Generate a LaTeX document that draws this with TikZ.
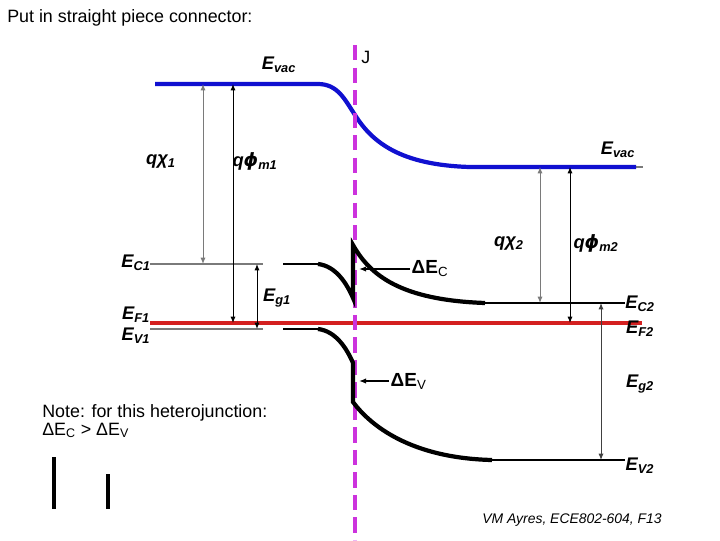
\documentclass[tikz,border=0pt]{standalone}
\usepackage{fontspec}
\setmainfont{Liberation Sans}
\newfontfamily\symfont{DejaVu Sans}
\usetikzlibrary{arrows.meta}
\definecolor{cblue}{HTML}{1010D0}
\definecolor{cred}{HTML}{D42020}
\definecolor{cjunc}{HTML}{CC33DD}
\definecolor{cgrey}{HTML}{7A7A7A}
\tikzset{
  every picture/.style={font=\fontsize{12.7}{15}\selectfont},
  level/.style={draw=#1, line width=1pt},
  level/.default=cgrey,
  band/.style={draw=black, line width=3pt},
  vac/.style={draw=cblue, line width=3pt},
  arrow/.style={{Latex[length=1.6mm,width=1.3mm]}-{Latex[length=1.6mm,width=1.3mm]}, draw=#1, line width=0.7pt},
  arrow/.default=black,
  lab/.style={font=\fontsize{13}{15}\selectfont\bfseries\itshape, inner sep=0pt},
  txt/.style={inner sep=0pt, anchor=base west},
}

\begin{document}
\begin{tikzpicture}[x=0.025cm, y=-0.025cm]
  \useasboundingbox (0,0) rectangle (720,540);
  \node[txt] (title) at (7,22) {Put in straight piece connector:};
  % level end points
  \coordinate (vac1a) at (155,84);  \coordinate (vac1b) at (318,84);
  \coordinate (vac2a) at (470,167); \coordinate (vac2b) at (636,167);
  \coordinate (c1a) at (150,264);   \coordinate (c1b) at (263,264);
  \coordinate (c1c) at (283,264);   \coordinate (c1d) at (318,264);
  \coordinate (v1a) at (150,329);   \coordinate (v1b) at (263,329);
  \coordinate (v1c) at (283,329);   \coordinate (v1d) at (318,329);
  \coordinate (c2a) at (485,303);   \coordinate (c2b) at (625,303);
  \coordinate (v2a) at (492,460);   \coordinate (v2b) at (625,460);
  \coordinate (fa) at (150,323);    \coordinate (fb) at (642,323);
  \coordinate (jtop) at (355,45);   \coordinate (jbot) at (355,540);
  % flat levels
  \draw[cred, line width=2.6pt] (fa) -- (fb);
  \draw[level] (c1a) -- (c1b);
  \draw[level] (v1a) -- (v1b);
  \draw[level=black] (c1c) -- (c1d);
  \draw[level=black] (v1c) -- (v1d);
  \draw[level=black] (c2a) -- (c2b);
  \draw[level=black] (v2a) -- (v2b);
  \draw[level] (vac2b) -- ++(7,0);
  % vacuum level
  \draw[vac] (vac1a) -- (vac1b) .. controls (338,84) and (345,100) .. (355,115)
    .. controls (372,142) and (400,165) .. (vac2a) -- (vac2b);
  % junction
  \draw[cjunc, line width=2.8pt, dash pattern=on 11pt off 5pt] (jtop) -- (jbot);
  \node[anchor=west, inner sep=0pt] (J) at (361,57) {J};
  % bent bands
  \draw[band] (c1d) .. controls (336,266) and (347,284) .. (353,298) -- (353,245)
    .. controls (370,275) and (400,300) .. (c2a);
  \draw[band] (v1d) .. controls (336,331) and (347,349) .. (353,363) -- (353,402)
    .. controls (370,425) and (410,458) .. (v2a);
  % band offsets
  \coordinate (dct) at (410,269); \coordinate (dch) at (359,269);
  \coordinate (dvt) at (389,381); \coordinate (dvh) at (359,381);
  \draw[-{Latex[length=1.8mm,width=1.4mm]}, line width=1pt] (dct) -- (dch);
  \draw[-{Latex[length=1.8mm,width=1.4mm]}, line width=1pt] (dvt) -- (dvh);
  \node[anchor=west, inner sep=1pt, font=\fontsize{13.5}{15}\selectfont] (dEc) at (dct) {\bfseries ΔE\textsubscript{\mdseries C}};
  \node[anchor=west, inner sep=1pt, font=\fontsize{13.5}{15}\selectfont] (dEv) at (dvt) {\bfseries ΔE\textsubscript{\mdseries V}};
  % energy arrows
  \coordinate (chi1t) at (203,84);  \coordinate (chi1b) at (203,264);
  \coordinate (phi1t) at (233,84);  \coordinate (phi1b) at (233,323);
  \coordinate (eg1t) at (257,264);  \coordinate (eg1b) at (257,329);
  \coordinate (chi2t) at (540,167); \coordinate (chi2b) at (540,303);
  \coordinate (phi2t) at (570,167); \coordinate (phi2b) at (570,323);
  \coordinate (eg2t) at (601,303);  \coordinate (eg2b) at (601,460);
  \foreach \a/\b/\c in {chi1t/chi1b/cgrey, phi1t/phi1b/black, eg1t/eg1b/black,
                        chi2t/chi2b/cgrey, phi2t/phi2b/black, eg2t/eg2b/black!75}
    \draw[arrow=\c] (\a) -- (\b);
  % labels
  \node[lab] (evac1) at (279,65)  {E\textsubscript{vac}};
  \node[lab] (evac2) at (618,150) {E\textsubscript{vac}};
  \node[lab] (chi1)  at (161,161) {qχ\textsubscript{1}};
  \node[lab] (phi1)  at (255,161) {q{\symfont ϕ}\textsubscript{m1}};
  \node[lab] (chi2)  at (509,243) {qχ\textsubscript{2}};
  \node[lab] (phi2)  at (596,243) {q{\symfont ϕ}\textsubscript{m2}};
  \node[lab] (ec1)   at (136,263) {E\textsubscript{C1}};
  \node[lab] (ef1)   at (136,315) {E\textsubscript{F1}};
  \node[lab] (ev1)   at (136,336) {E\textsubscript{V1}};
  \node[lab] (eg1)   at (277,298) {E\textsubscript{g1}};
  \node[lab] (ec2)   at (640,304) {E\textsubscript{C2}};
  \node[lab] (ef2)   at (640,329) {E\textsubscript{F2}};
  \node[lab] (eg2)   at (640,384) {E\textsubscript{g2}};
  \node[lab] (ev2)   at (640,466) {E\textsubscript{V2}};
  % note
  \node[txt] (note1) at (42,417) {Note: for this heterojunction:};
  \node[txt] (note2) at (42,435) {ΔE\textsubscript{C} > ΔE\textsubscript{V}};
  \coordinate (bar1t) at (54,457);  \coordinate (bar1b) at (54,509);
  \coordinate (bar2t) at (108,474); \coordinate (bar2b) at (108,509);
  \draw[line width=3pt] (bar1t) -- (bar1b);
  \draw[line width=3pt] (bar2t) -- (bar2b);
  \node[txt, font=\fontsize{9.9}{11}\selectfont\itshape] (credit) at (482,523) {VM Ayres, ECE802-604, F13};
\end{tikzpicture}
\end{document}
